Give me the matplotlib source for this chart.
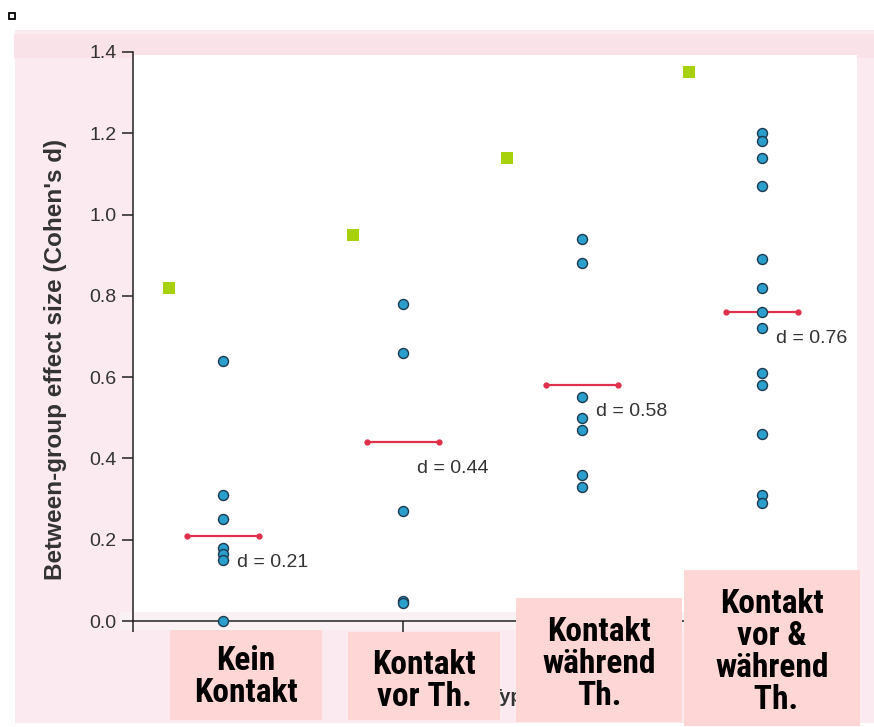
import matplotlib
matplotlib.use("Agg")
import matplotlib.pyplot as plt
from matplotlib.patches import Rectangle
from matplotlib import font_manager as fm

# ---------------- data ----------------
categories = ["Kein\nKontakt", "Kontakt\nvor Th.", "Kontakt\nwährend\nTh.", "Kontakt\nvor &\nwährend\n Th."]
group_pos = [1, 2, 3, 4]
kein_kontakt = [0.64, 0.31, 0.25, 0.18, 0.165, 0.15, 0.0]
kontakt_vor = [0.78, 0.66, 0.27, 0.05, 0.045]
kontakt_waehrend = [0.94, 0.88, 0.55, 0.50, 0.47, 0.36, 0.33]
kontakt_vor_waehrend = [1.20, 1.18, 1.14, 1.07, 0.89, 0.82, 0.76, 0.72, 0.61, 0.58, 0.46, 0.31, 0.29]
mean_d = [0.21, 0.44, 0.58, 0.76]
mean_labels = ["d = 0.21", "d = 0.44", "d = 0.58", "d = 0.76"]
green_x = [0.703, 1.722, 2.578, 3.592]
green_y = [0.82, 0.95, 1.14, 1.35]
yticks = [0.0, 0.2, 0.4, 0.6, 0.8, 1.0, 1.2, 1.4]
ytick_labels = ["0.0", "0.2", "0.4", "0.6", "0.8", "1.0", "1.2", "1.4"]
groups = [kein_kontakt, kontakt_vor, kontakt_waehrend, kontakt_vor_waehrend]


def pick_font(cands, weight="normal"):
    for c in cands:
        try:
            fm.findfont(fm.FontProperties(family=c, weight=weight), fallback_to_default=False)
            return c
        except Exception:
            continue
    return "DejaVu Sans"


base_font = pick_font(["Liberation Sans", "Arial", "DejaVu Sans"])
narrow_font = pick_font(["Liberation Sans Narrow", "Arial Narrow", "Roboto Condensed", "Liberation Sans"], "bold")

W, H = 874, 727
fig = plt.figure(figsize=(W / 100, H / 100), dpi=100)
fig.patch.set_facecolor("white")


def px_rect(x0, y0, x1, y1, **kw):
    return Rectangle((x0 / W, 1 - y1 / H), (x1 - x0) / W, (y1 - y0) / H,
                     transform=fig.transFigure, **kw)


# background (pink slide frame with white plot area)
fig.patches.append(px_rect(15, 30, 874, 723, facecolor="#fbeaef", edgecolor="none", zorder=-10))
fig.patches.append(px_rect(14, 34, 874, 58, facecolor="#f9e2e8", edgecolor="none", zorder=-9))
fig.patches.append(px_rect(133, 55, 857, 612, facecolor="white", edgecolor="none", zorder=-8))
fig.patches.append(px_rect(120, 612, 860, 630, facecolor="#f9f1f3", edgecolor="none", zorder=-8))
# tiny square in the corner
fig.patches.append(px_rect(9, 13, 15, 19, facecolor="white", edgecolor="black", linewidth=1.3, zorder=1))

ax = fig.add_axes([133 / W, 1 - 621 / H, (852 - 133) / W, (621 - 52) / H])
ax.set_facecolor("none")
ax.set_xlim(0.5, 4.5)
ax.set_ylim(0, 1.4)

for s in ["top", "right"]:
    ax.spines[s].set_visible(False)
for s in ["left", "bottom"]:
    ax.spines[s].set_color("#222222")
    ax.spines[s].set_linewidth(1.1)

ax.set_yticks(yticks)
ax.set_yticklabels(ytick_labels, fontsize=14, color="#333333", family=base_font)
ax.set_xticks([0.5, 2.0, 3.5])
ax.set_xticklabels([])
ax.tick_params(axis="both", direction="out", length=8, width=1.1, color="#222222", pad=4)

ax.set_ylabel("Between-group effect size (Cohen's d)", fontsize=17.5, fontweight="bold",
              color="#333333", family=base_font)
ax.yaxis.set_label_coords(-0.092, 0.46)
ax.set_xlabel("Type", fontsize=14, fontweight="bold", color="#333333", family=base_font)
ax.xaxis.set_label_coords(0.527, -0.12)

# green squares
ax.plot(green_x, green_y, linestyle="none", marker="s", markersize=9.2,
        color="#a6d10c", markeredgewidth=0, clip_on=False, zorder=3)

# blue dots
for pos, vals in zip(group_pos, groups):
    ax.plot([pos] * len(vals), vals, linestyle="none", marker="o", markersize=7.2,
            markerfacecolor="#2b9fcc", markeredgecolor="#1c3a4e", markeredgewidth=1.0,
            clip_on=False, zorder=4)

# mean lines and labels
for pos, m, lab in zip(group_pos, mean_d, mean_labels):
    ax.plot([pos - 0.2, pos + 0.2], [m, m], color="#e0304c", linewidth=1.6,
            marker="o", markersize=3.5, zorder=3)
    ax.annotate(lab, xy=(pos, m), xytext=(10, -19), textcoords="offset points",
                ha="left", va="center", fontsize=14, color="#333333", family=base_font,
                zorder=5)

# category boxes
box_px = [(170, 630, 322, 720), (348, 632, 500, 720), (516, 598, 682, 722), (684, 570, 860, 726)]
text_cy = [677, 681, 664, 652]
for (x0, y0, x1, y1), lab, cy in zip(box_px, categories, text_cy):
    r = px_rect(x0, y0, x1, y1, facecolor="#ffd6d6", edgecolor="none", zorder=10)
    fig.add_artist(r)
    fig.text((x0 + x1) / 2 / W, 1 - cy / H, lab, ha="center", va="center",
             fontsize=24, fontweight="bold", family=narrow_font, color="black",
             linespacing=1.0, zorder=11, multialignment="center")

fig.savefig("out.png", dpi=100, facecolor=fig.get_facecolor())
